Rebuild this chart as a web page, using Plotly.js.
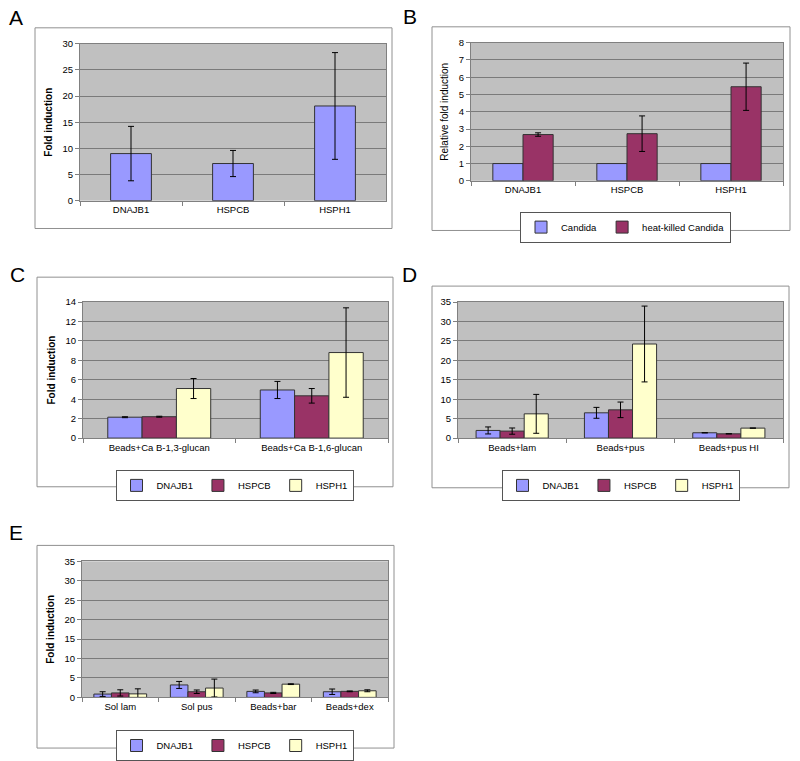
<!DOCTYPE html>
<html>
<head>
<meta charset="utf-8">
<script src="https://cdn.plot.ly/plotly-3.0.1.min.js"></script>
<style>html,body{margin:0;padding:0;background:#fff;}#chart{width:800px;height:761px;}</style>
</head>
<body>
<div id="chart"></div>
<script>
// ---- Data ----
const genes = ['DNAJB1', 'HSPCB', 'HSPH1'];

// Panel A
const catsA = ['DNAJB1', 'HSPCB', 'HSPH1'];
const valsA = [9.0, 7.1, 18.1];
const errA = [5.2, 2.5, 10.2];

// Panel B
const catsB = ['DNAJB1', 'HSPCB', 'HSPH1'];
const seriesB = ['Candida', 'heat-killed Candida'];
const candidaB = [1, 1, 1];
const heatKilledB = [2.68, 2.73, 5.45];
const heatKilledErrB = [0.1, 1.03, 1.37];

// Panel C
const catsC = ['Beads+Ca B-1,3-glucan', 'Beads+Ca B-1,6-glucan'];
const dnajC = [2.15, 4.95];
const dnajErrC = [0.05, 0.88];
const hspcbC = [2.2, 4.35];
const hspcbErrC = [0.05, 0.75];
const hsph1C = [5.1, 8.8];
const hsph1ErrC = [1.03, 4.6];

// Panel D
const catsD = ['Beads+lam', 'Beads+pus', 'Beads+pus HI'];
const dnajD = [1.97, 6.5, 1.37];
const dnajErrD = [0.9, 1.4, null];
const hspcbD = [1.8, 7.27, 1.1];
const hspcbErrD = [0.8, 2.0, null];
const hsph1D = [6.24, 24.2, 2.57];
const hsph1ErrD = [5.0, 9.75, null];

// Panel E
const catsE = ['Sol lam', 'Sol pus', 'Beads+bar', 'Beads+dex'];
const dnajE = [0.85, 3.2, 1.54, 1.45];
const dnajErrE = [0.6, 0.9, 0.35, 0.7];
const hspcbE = [1.15, 1.45, 1.15, 1.55];
const hspcbErrE = [0.8, 0.45, 0.15, 0.1];
const hsph1E = [0.9, 2.4, 3.4, 1.7];
const hsph1ErrE = [1.3, 2.3, 0.1, 0.25];

// ---- Styles ----
const colors = ['#9999FF', '#993366', '#FFFFCC'];
const FONT = 'Liberation Sans, Arial, sans-serif';
const W = 800, H = 761;
const px = v => v / W;
const py = v => 1 - v / H;

function bar(x, y, err, color, name, xa, ya, legend, width, offset, showlegend) {
  const t = {
    type: 'bar', x: x, y: y, name: name,
    xaxis: xa, yaxis: ya,
    width: width, offset: offset,
    marker: {color: color, line: {color: '#333333', width: 1}},
    showlegend: showlegend,
    hoverinfo: 'x+y'
  };
  if (legend) t.legend = legend;
  if (err) t.error_y = {type: 'data', array: err, visible: true, color: '#000', thickness: 1, width: 3};
  return t;
}

const traces = [];
// A
traces.push(bar(catsA, valsA, errA, colors[0], 'A', 'x', 'y', null, 0.4, -0.2, false));
// B
traces.push(bar(catsB, candidaB, null, colors[0], seriesB[0], 'x2', 'y2', 'legend', 0.29, -0.29, true));
traces.push(bar(catsB, heatKilledB, heatKilledErrB, colors[1], seriesB[1], 'x2', 'y2', 'legend', 0.29, 0, true));
// C
const wC = 0.225;
traces.push(bar(catsC, dnajC, dnajErrC, colors[0], genes[0], 'x3', 'y3', 'legend2', wC, -1.5 * wC, true));
traces.push(bar(catsC, hspcbC, hspcbErrC, colors[1], genes[1], 'x3', 'y3', 'legend2', wC, -0.5 * wC, true));
traces.push(bar(catsC, hsph1C, hsph1ErrC, colors[2], genes[2], 'x3', 'y3', 'legend2', wC, 0.5 * wC, true));
// D
const wD = 0.222;
traces.push(bar(catsD, dnajD, dnajErrD, colors[0], genes[0], 'x4', 'y4', 'legend3', wD, -1.5 * wD, true));
traces.push(bar(catsD, hspcbD, hspcbErrD, colors[1], genes[1], 'x4', 'y4', 'legend3', wD, -0.5 * wD, true));
traces.push(bar(catsD, hsph1D, hsph1ErrD, colors[2], genes[2], 'x4', 'y4', 'legend3', wD, 0.5 * wD, true));
// E
const wE = 0.23;
traces.push(bar(catsE, dnajE, dnajErrE, colors[0], genes[0], 'x5', 'y5', 'legend4', wE, -1.5 * wE, true));
traces.push(bar(catsE, hspcbE, hspcbErrE, colors[1], genes[1], 'x5', 'y5', 'legend4', wE, -0.5 * wE, true));
traces.push(bar(catsE, hsph1E, hsph1ErrE, colors[2], genes[2], 'x5', 'y5', 'legend4', wE, 0.5 * wE, true));

function xaxis(x0, x1, anchor, ncat) {
  return {
    domain: [px(x0), px(x1)], anchor: anchor, type: 'category',
    range: [-0.5, ncat - 0.5], tickson: 'boundaries', ticks: 'outside', ticklen: 4,
    tickcolor: '#808080', showline: true, linecolor: '#808080', linewidth: 1, mirror: true,
    showgrid: false, zeroline: false, fixedrange: true,
    tickfont: {family: FONT, size: 9.5, color: '#000'}
  };
}
function yaxis(y0, y1, anchor, max, dtick, title, bold) {
  const a = {
    domain: [py(y1), py(y0)], anchor: anchor, range: [0, max], dtick: dtick,
    ticks: 'outside', ticklen: 4, tickcolor: '#808080',
    showline: true, linecolor: '#808080', linewidth: 1, mirror: true,
    showgrid: true, gridcolor: '#7a7a7a', gridwidth: 1, zeroline: false, fixedrange: true,
    tickfont: {family: FONT, size: 9.5, color: '#000'}
  };
  if (title) a.title = {text: bold ? '<b>' + title + '</b>' : title, font: {family: FONT, size: 10, color: '#000'}, standoff: 8};
  return a;
}

function legendCfg(cx, top) {
  return {
    orientation: 'h', x: px(cx), xanchor: 'center', y: py(top), yanchor: 'top',
    bordercolor: '#555', borderwidth: 1, bgcolor: '#fff',
    font: {family: FONT, size: 9.5, color: '#000'},
    itemwidth: 30, tracegroupgap: 0, traceorder: 'normal'
  };
}

function frame(x0, y0, x1, y1) {
  return {type: 'rect', xref: 'paper', yref: 'paper', x0: px(x0), x1: px(x1), y0: py(y1), y1: py(y0),
    line: {color: '#909090', width: 1}, fillcolor: 'rgba(0,0,0,0)', layer: 'below'};
}
function letter(t, x, y) {
  return {text: t, xref: 'paper', yref: 'paper', x: px(x), y: py(y), xanchor: 'center', yanchor: 'middle',
    showarrow: false, font: {family: FONT, size: 21, color: '#000'}};
}

const layout = {
  width: W, height: H, margin: {l: 0, r: 0, t: 0, b: 0},
  paper_bgcolor: '#fff', plot_bgcolor: '#C0C0C0',
  barmode: 'overlay', showlegend: true,
  xaxis: xaxis(80, 386, 'y', 3),
  yaxis: yaxis(44, 202, 'x', 30, 5, 'Fold induction', true),
  xaxis2: xaxis(471, 783, 'y2', 3),
  yaxis2: yaxis(43, 182, 'x2', 8, 1, 'Relative fold induction', false),
  xaxis3: xaxis(83, 388, 'y3', 2),
  yaxis3: yaxis(304, 441, 'x3', 14, 2, 'Fold induction', true),
  xaxis4: xaxis(458, 783, 'y4', 3),
  yaxis4: yaxis(304, 441, 'x4', 35, 5, null, false),
  xaxis5: xaxis(82, 388, 'y5', 4),
  yaxis5: yaxis(565, 702, 'x5', 35, 5, 'Fold induction', true),
  legend: legendCfg(625.5, 213),
  legend2: legendCfg(234.5, 473),
  legend3: legendCfg(620.5, 473),
  legend4: legendCfg(234.5, 735),
  shapes: [
    frame(35, 28, 392, 230),
    frame(432, 27, 790, 232),
    frame(37, 279, 393, 490),
    frame(432, 288, 789, 491),
    frame(37, 549, 394, 753)
  ],
  annotations: [
    letter('A', 16, 18), letter('B', 410, 17), letter('C', 17, 276), letter('D', 410, 276), letter('E', 16, 536)
  ]
};

Plotly.newPlot('chart', traces, layout, {staticPlot: true, displayModeBar: false});
</script>
</body>
</html>
